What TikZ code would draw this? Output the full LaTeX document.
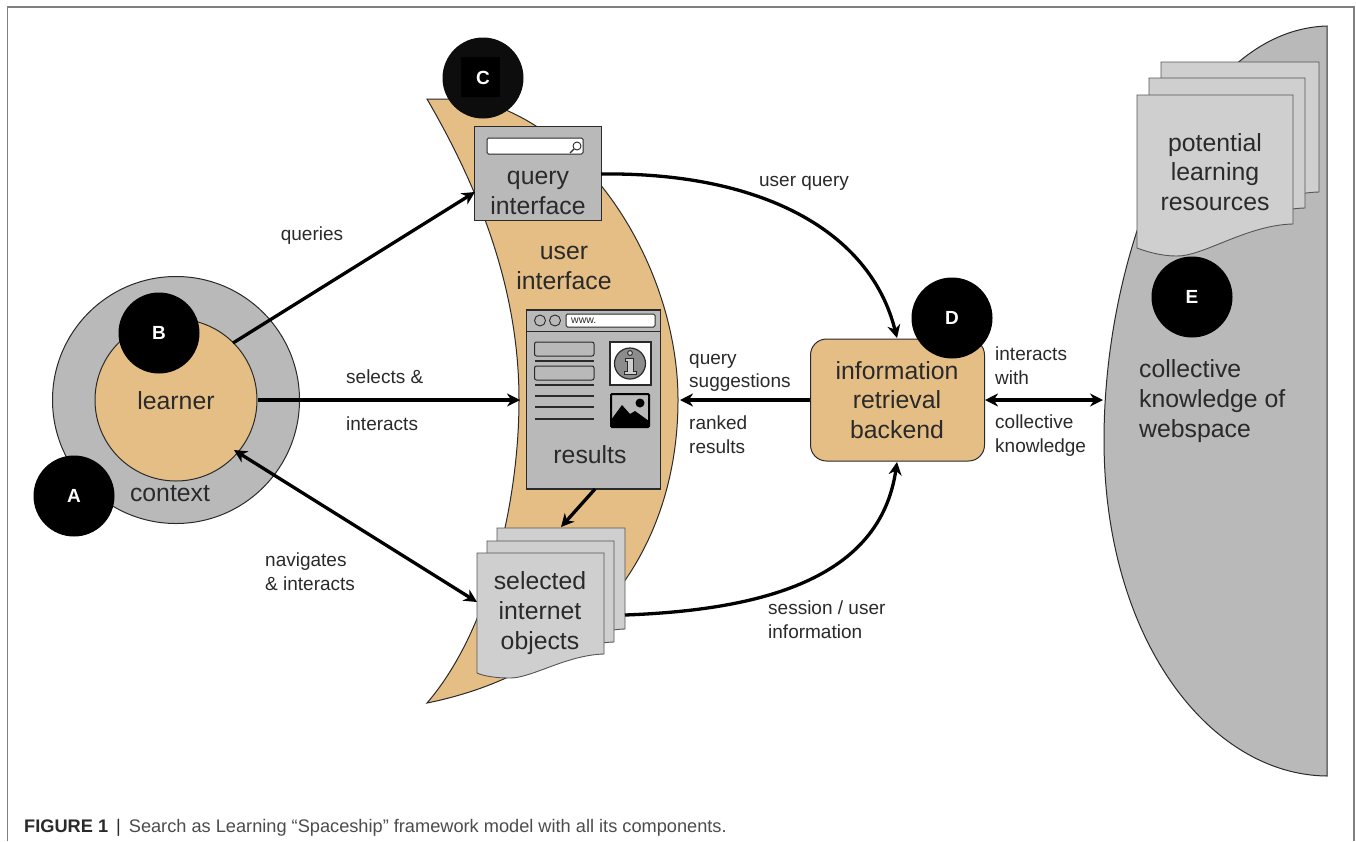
\documentclass[tikz,border=0pt]{standalone}
\usepackage{fontspec}
\setmainfont{Liberation Sans}
\usetikzlibrary{arrows.meta,calc}
\definecolor{tan}{HTML}{E5BE86}
\definecolor{gA}{HTML}{B9B9B9}
\definecolor{gB}{HTML}{CFCFCF}
\definecolor{ink}{HTML}{2A2A2A}
\tikzset{
  x=1pt,y=-1pt,
  lab/.style={font=\fontsize{19}{23.7}\selectfont,text=ink,align=left,inner sep=0},
  big/.style={font=\fontsize{24.8}{29.6}\selectfont,text=ink,align=center,inner sep=0},
  badge/.style={circle,fill=black,minimum size=81pt,inner sep=0,text=white,font=\bfseries\fontsize{19}{22}\selectfont},
  conn/.style={line width=3.3pt,draw=black,-{Stealth[length=13pt,width=13pt]}},
  conn2/.style={line width=3.3pt,draw=black,{Stealth[length=13pt,width=13pt]}-{Stealth[length=13pt,width=13pt]}},
  outl/.style={draw=ink,line width=1pt},
}
\newcommand{\docpage}[7]{% x1 y1 x2 y2 fill leftdrop lowest
  \path[draw=ink!80,line width=0.9pt,fill=#5] (#1,#2) -- (#3,#2) -- (#3,#4) .. controls ({#3-(#3-#1)*0.3},{#4+1}) and ({#1+(#3-#1)*0.42},{#4+#7+1}) .. ({#1+(#3-#1)*0.25},{#4+#7}) .. controls ({#1+(#3-#1)*0.15},{#4+#7}) and ({#1+(#3-#1)*0.05},{#4+#6+3}) .. (#1,{#4+#6}) -- cycle;
}
\begin{document}
\begin{tikzpicture}
\useasboundingbox (0,0) rectangle (1356,841);
\fill[white] (0,0) rectangle (1356,841);
\draw[line width=1.2pt,draw=black!50] (7.5,841) -- (7.5,7) -- (1354,7) -- (1354,841);
% webspace
\path[outl,fill=gA] (1327,26) .. controls (1190,30) and (1104,250) .. (1104,440) .. controls (1104,640) and (1210,775) .. (1327,776) -- cycle;
% crescent
\path[outl,fill=tan] (427,99) -- (472,99) .. controls (590,125) and (678,270) .. (678,400) .. controls (678,540) and (600,668) .. (427,703) .. controls (490,630) and (519,500) .. (519,400) .. controls (519,290) and (480,190) .. (427,99) -- cycle;
% context and learner
\node[circle,fill=gA,outl,minimum size=247pt,inner sep=0] (ctx) at (176,400) {};
\node[circle,fill=tan,outl,minimum size=162pt,inner sep=0] (learner) at (176,400) {};
\node[big] (learnertxt) at (176,401) {learner};
\node[big] (contexttxt) at (170,494) {context};
% query interface
\node[fill=gA,outl,line width=1.2pt,minimum width=127pt,minimum height=94pt,inner sep=0] (qi) at (538,173.5) {};
\path[fill=white,draw=ink,line width=1pt,rounded corners=1.5pt] (487,138) rectangle (583,154);
\draw[ink,line width=0.9pt] (577,146) circle (4pt);
\draw[ink,line width=1.1pt] (574,149) -- (570,153);
\node[big] (qitxt) at (538,193) {query\\interface};
\node[big] (uitxt) at (564,268) {user\\interface};
% results
\node[fill=gA,outl,line width=1.2pt,minimum width=134pt,minimum height=179pt,inner sep=0] (res) at (593.5,399.5) {};
\draw[ink,line width=1pt] (527,331) -- (660,331);
\draw[ink,line width=0.9pt] (540,320.5) circle (5.5pt) (555,320.5) circle (5.5pt);
\path[fill=white,draw=ink,line width=1pt,rounded corners=1.5pt] (566,314) rectangle (655,327);
\node[font=\fontsize{10.5}{12}\selectfont,text=ink,anchor=west,inner sep=0] (www) at (571,321) {www.};
\path[draw=ink,line width=1pt,rounded corners=2pt] (534.5,342) rectangle (594,356);
\path[draw=ink,line width=1pt,rounded corners=2pt] (534.5,366) rectangle (594,380);
\foreach \yy in {361,385,396,407,419} \draw[ink,line width=1.4pt] (535,\yy) -- (594,\yy);
% info icon
\path[fill=white,draw=ink,line width=1.6pt] (610,342) rectangle (651,385);
\path[fill=gray!90,draw=ink,line width=1.2pt] (630,363.5) circle (15.5pt);
\path[fill=gB,draw=ink,line width=0.9pt] (630,353) circle (2.4pt);
\path[fill=gB,draw=ink,line width=0.9pt] (625.5,358) -- (633,358) -- (633,371) -- (636,371) -- (636,374.5) -- (624.5,374.5) -- (624.5,371) -- (627.5,371) -- (627.5,361) -- (625.5,361) -- cycle;
% image icon
\path[fill=gA,draw=black,line width=2pt,rounded corners=1pt] (611,394) rectangle (649,427);
\fill[black] (611,427) -- (611,420) -- (622,405) -- (630,414) -- (635,411) -- (649,421) -- (649,427) -- cycle;
\fill[black] (640,403) circle (4.5pt);
\node[big] (restxt) at (590,455) {results};
% selected pages
\docpage{497}{528}{625}{629}{gB}{19}{24}
\docpage{487}{541}{614}{642}{gB}{19}{24}
\docpage{477}{553}{604}{654}{gB}{19}{24}
\node[big] (seltxt) at (540,613) {selected\\internet\\objects};
% backend
\node[fill=tan,outl,rounded corners=16pt,minimum width=174pt,minimum height=122pt,inner sep=0,align=center] (ir) at (897.5,400) {};
\node[big] (irtxt) at (897,400) {information\\retrieval\\backend};
% resources pages
\docpage{1161}{62}{1319}{192}{gB}{24}{32}
\docpage{1149}{78}{1305}{208}{gB}{24}{32}
\docpage{1137}{95}{1293}{224}{gB}{24}{32}
\node[big] (pottxt) at (1215,172) {potential\\learning\\resources};
\node[big,align=left,anchor=west] (cktxt) at (1139,401) {collective\\knowledge of\\webspace};
% connectors
\coordinate (qiR) at (601,174);
\coordinate (irT) at (897,338);
\coordinate (selR) at (625,615);
\coordinate (irB) at (897,462);
\coordinate (webL) at (1103,400);
\draw[conn] (233,343) -- (475,192);
\draw[conn] (258,400) -- (520,400);
\draw[conn2] (234,450) -- (477,602);
\draw[conn] (595,489) -- (561,527);
\draw[conn] (qiR) .. controls (760,172) and (870,230) .. (irT);
\draw[conn] (ir.west) -- (680,400);
\draw[conn] (selR) .. controls (760,610) and (880,580) .. (irB);
\draw[conn2] (ir.east) -- (webL);
% labels
\node[lab] (l1) at (312,236) {queries};
\node[lab,anchor=west] (l2) at (346,377) {selects \&};
\node[lab,anchor=west] (l3) at (346,424) {interacts};
\node[lab,anchor=west] (l4) at (265,571.5) {navigates\\\& interacts};
\node[lab] (l5) at (804,183) {user query};
\node[lab,anchor=west] (l6) at (689,373) {query\\suggestions};
\node[lab,anchor=west] (l7) at (689,434.5) {ranked\\results};
\node[lab,anchor=west] (l8) at (768,619.5) {session / user\\information};
\node[lab,anchor=west] (l9) at (995,365.5) {interacts\\with};
\node[lab,anchor=west] (l10) at (995,435.5) {collective\\knowledge};
% badges
\node[badge,fill=black] (A) at (74,496) {A};
\node[badge] (B) at (159,333) {B};
\node[badge,fill=black!95] (C) at (483,78) {};
\fill[black] (461,57) rectangle (500,97);
\node[text=white,font=\bfseries\fontsize{19}{22}\selectfont,inner sep=0] (Ctxt) at (483,78) {C};
\node[badge] (D) at (952,318) {D};
\node[badge] (E) at (1192,297) {E};
% caption
\node[anchor=base west,inner sep=0,font=\fontsize{18.2}{20}\selectfont,text=black!70] (cap) at (24,832) {\textcolor{ink}{\textbf{FIGURE 1}}\hspace{8pt}\textcolor{ink}{|}\hspace{8pt}Search as Learning “Spaceship” framework model with all its components.};
\end{tikzpicture}
\end{document}
